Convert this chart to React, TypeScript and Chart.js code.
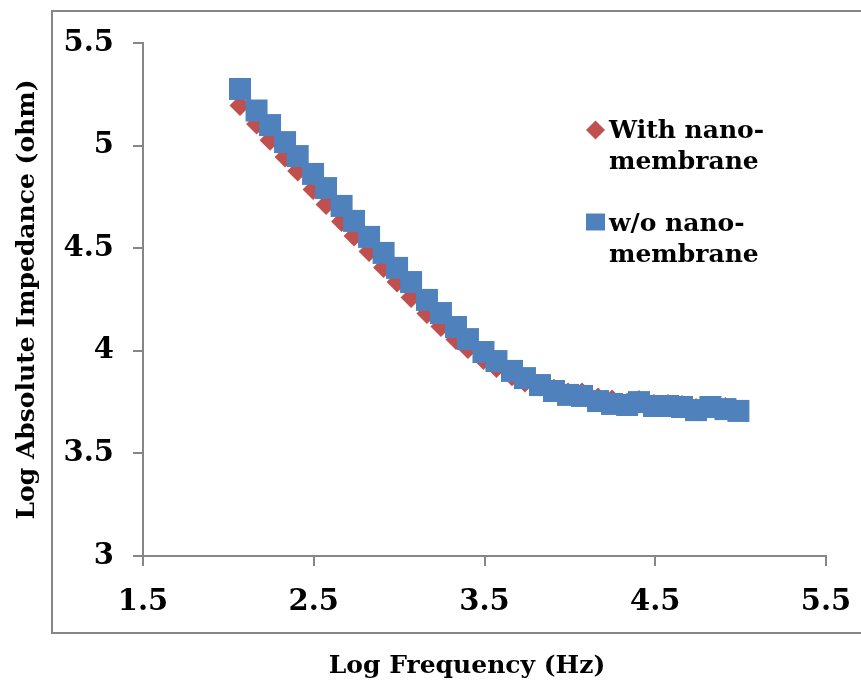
import React, { useEffect, useRef } from 'react';
import { Chart, registerables } from 'chart.js';

Chart.register(...registerables);

// Log of measurement frequency (Hz) shared by both series
const logFrequency = [
  2.068, 2.165, 2.244, 2.332, 2.406, 2.496, 2.572, 2.663, 2.736, 2.824,
  2.909, 2.988, 3.070, 3.163, 3.245, 3.333, 3.403, 3.494, 3.570, 3.661,
  3.737, 3.825, 3.907, 3.989, 4.071, 4.165, 4.247, 4.335, 4.405, 4.493,
  4.575, 4.657, 4.739, 4.823, 4.911, 4.987,
];

// Log absolute impedance (ohm), electrode with nano-membrane
const withNanoMembrane = [
  5.195, 5.105, 5.026, 4.945, 4.876, 4.786, 4.713, 4.630, 4.560, 4.484,
  4.406, 4.335, 4.260, 4.182, 4.119, 4.055, 4.011, 3.958, 3.919, 3.878,
  3.848, 3.828, 3.813, 3.794, 3.794, 3.770, 3.760, 3.745, 3.758, 3.738,
  3.738, 3.733, 3.719, 3.724, 3.724, 3.708,
];

// Log absolute impedance (ohm), electrode without nano-membrane
const withoutNanoMembrane = [
  5.276, 5.171, 5.100, 5.017, 4.949, 4.862, 4.793, 4.706, 4.633, 4.555,
  4.477, 4.404, 4.335, 4.248, 4.184, 4.116, 4.057, 3.994, 3.950, 3.902,
  3.867, 3.833, 3.804, 3.785, 3.780, 3.755, 3.741, 3.736, 3.750, 3.731,
  3.731, 3.726, 3.711, 3.726, 3.716, 3.707,
];

const xTicks = [1.5, 2.5, 3.5, 4.5, 5.5];
const yTicks = [3, 3.5, 4, 4.5, 5, 5.5];

const seriesLabels = [
  ['With nano-', 'membrane'],
  ['w/o nano-', 'membrane'],
];
const seriesColors = ['#C0504D', '#4F81BD'];

const xTitle = 'Log Frequency (Hz)';
const yTitle = 'Log Absolute Impedance (ohm)';

const FONT = '"DejaVu Serif", Georgia, serif';
const AXIS_GRAY = '#868686';

// Outer frame, x-axis title and the two-line legend
const decorPlugin = {
  id: 'decor',
  beforeDraw(chart: any) {
    const { ctx, width, height } = chart;
    ctx.save();
    ctx.fillStyle = '#ffffff';
    ctx.fillRect(0, 0, width, height);
    ctx.strokeStyle = AXIS_GRAY;
    ctx.lineWidth = 2;
    ctx.strokeRect(52, 11, width + 20, 622);
    ctx.restore();
  },
  afterDraw(chart: any) {
    const { ctx } = chart;
    ctx.save();
    // x-axis title
    ctx.fillStyle = '#000';
    ctx.font = `bold 25px ${FONT}`;
    ctx.textAlign = 'center';
    ctx.textBaseline = 'alphabetic';
    ctx.fillText(xTitle, 467, 673);

    // legend
    const markerX = 595.5;
    const textX = 609;
    const entries = [
      { markerY: 130, baselines: [138, 169], style: 'diamond' },
      { markerY: 222, baselines: [231, 262], style: 'square' },
    ];
    entries.forEach((e, i) => {
      ctx.fillStyle = seriesColors[i];
      ctx.beginPath();
      if (e.style === 'diamond') {
        const r = 9.5;
        ctx.moveTo(markerX - r, e.markerY);
        ctx.lineTo(markerX, e.markerY - r);
        ctx.lineTo(markerX + r, e.markerY);
        ctx.lineTo(markerX, e.markerY + r);
        ctx.closePath();
      } else {
        ctx.rect(markerX - 9.5, e.markerY - 8.5, 19, 17);
      }
      ctx.fill();
      ctx.fillStyle = '#000';
      ctx.font = `bold 25px ${FONT}`;
      ctx.textAlign = 'left';
      ctx.textBaseline = 'alphabetic';
      seriesLabels[i].forEach((line, j) => ctx.fillText(line, textX, e.baselines[j]));
    });
    ctx.restore();
  },
};

export default function App() {
  const canvasRef = useRef<HTMLCanvasElement | null>(null);

  useEffect(() => {
    const canvas = canvasRef.current;
    if (!canvas) return;

    const toPoints = (ys: number[]) => logFrequency.map((x, i) => ({ x, y: ys[i] }));

    const axisGrid = {
      display: true,
      drawOnChartArea: false,
      drawTicks: true,
      tickLength: 10,
      color: AXIS_GRAY,
      lineWidth: 2,
    };

    const chart = new Chart(canvas, {
      type: 'scatter',
      data: {
        datasets: [
          {
            label: seriesLabels[0].join(''),
            data: toPoints(withNanoMembrane),
            backgroundColor: seriesColors[0],
            borderColor: seriesColors[0],
            pointStyle: 'rectRot',
            pointRadius: 10.5,
            pointHoverRadius: 10.5,
            pointBorderWidth: 0,
            showLine: false,
            order: 2,
          },
          {
            label: seriesLabels[1].join(''),
            data: toPoints(withoutNanoMembrane),
            backgroundColor: seriesColors[1],
            borderColor: seriesColors[1],
            pointStyle: 'rect',
            pointRadius: 15.56,
            pointHoverRadius: 15.56,
            pointBorderWidth: 0,
            showLine: false,
            order: 1,
          },
        ],
      },
      options: {
        responsive: false,
        animation: false,
        events: [],
        layout: { padding: { left: 0, top: 43, right: 35, bottom: 0 } },
        plugins: {
          legend: { display: false },
          tooltip: { enabled: false },
        },
        scales: {
          x: {
            type: 'linear',
            min: 1.5,
            max: 5.5,
            afterBuildTicks: (s: any) => {
              s.ticks = xTicks.map((v) => ({ value: v }));
            },
            afterFit: (s: any) => {
              s.height = 125;
              s.paddingLeft = 0;
              s.paddingRight = 0;
            },
            ticks: {
              color: '#000',
              padding: 19,
              font: { family: FONT, size: 29, weight: 'bold' },
              callback: (v: any) => String(v),
              maxRotation: 0,
            },
            grid: axisGrid,
            border: { display: true, color: AXIS_GRAY, width: 2 },
          },
          y: {
            type: 'linear',
            min: 3,
            max: 5.5,
            afterBuildTicks: (s: any) => {
              s.ticks = yTicks.map((v) => ({ value: v }));
            },
            afterFit: (s: any) => {
              s.width = 143;
              s.paddingTop = 0;
              s.paddingBottom = 0;
            },
            ticks: {
              color: '#000',
              padding: 19,
              font: { family: FONT, size: 29, weight: 'bold' },
              callback: (v: any) => String(v),
            },
            grid: axisGrid,
            border: { display: true, color: AXIS_GRAY, width: 2 },
            title: {
              display: true,
              text: yTitle,
              color: '#000',
              font: { family: FONT, size: 25, weight: 'bold' },
              padding: { top: 12, bottom: 0 },
            },
          },
        },
      } as any,
      plugins: [decorPlugin],
    });

    return () => chart.destroy();
  }, []);

  return (
    <div style={{ position: 'absolute', left: 0, top: 0, width: 861, height: 681 }}>
      <canvas ref={canvasRef} width={861} height={681} style={{ display: 'block' }} />
    </div>
  );
}
